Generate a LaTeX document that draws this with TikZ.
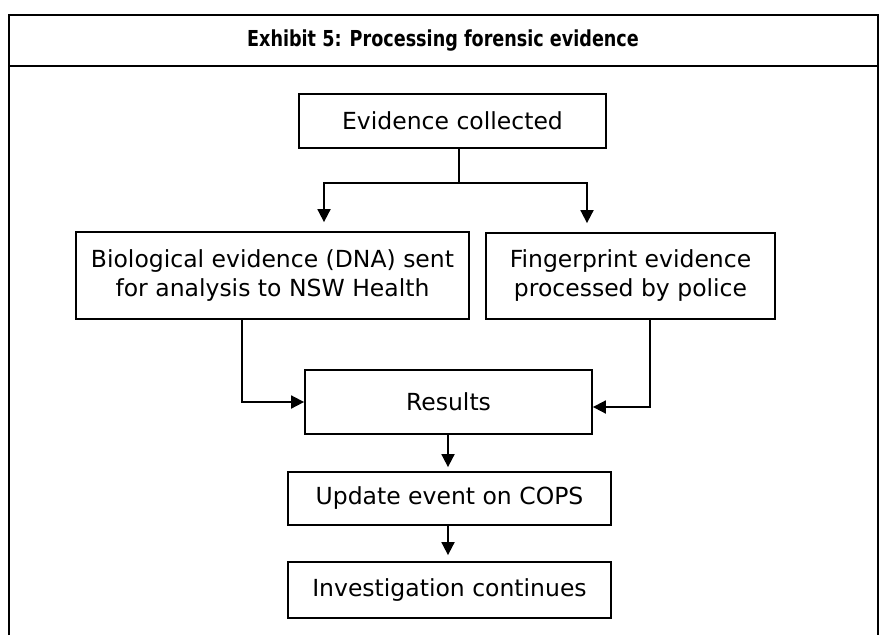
\documentclass[tikz,border=0pt]{standalone}
\usepackage{fontspec}
\setmainfont{DejaVu Sans}
\newfontfamily\headfont[FakeStretch=0.8]{DejaVu Sans Bold}
\usetikzlibrary{arrows.meta}

\begin{document}
\begin{tikzpicture}[x=1pt, y=-1pt,
          box/.style = {draw, line width=1.8pt, inner sep=0pt, align=center,
                        font=\fontsize{23.5}{29}\selectfont},
          link/.style = {draw, line width=1.8pt},
          flow/.style = {link, -{Triangle[length=13pt,width=13pt]}}
          ]
  \useasboundingbox (0,0) rectangle (885,635);
  % outer frame and heading
  \draw[line width=2.3pt] (9,635) -- (9,15) -- (878,15) -- (878,635);
  \draw[line width=2.3pt] (9,66) -- (878,66);
  \node[font=\fontsize{22}{26}\headfont] (title) at (443,41)
    {Exhibit 5: Processing forensic evidence};
  % boxes
  \node[box, minimum width=307pt, minimum height=54pt] (collected) at (452.5,121) {Evidence collected};
  \node[box, minimum width=393pt, minimum height=87pt] (bio) at (272.5,275.5)
    {Biological evidence (DNA) sent \\ for analysis to NSW Health};
  \node[box, minimum width=289pt, minimum height=86pt] (finger) at (630.5,276)
    {Fingerprint evidence \\ processed by police};
  \node[box, minimum width=287pt, minimum height=64pt] (results) at (448.5,402) {Results};
  \node[box, minimum width=323pt, minimum height=53pt] (update) at (449.5,498.5) {Update event on COPS};
  \node[box, minimum width=323pt, minimum height=56pt] (invest) at (449.5,590) {Investigation continues};
  % connectors
  \coordinate (split) at (459,183);
  \draw[link] (collected.south -| split) -- (split);
  \draw[flow, shorten >=9pt] (split) -| (324,0 |- bio.north);
  \draw[flow, shorten >=9pt] (split) -| (587,0 |- finger.north);
  \draw[flow] (242,0 |- bio.south) |- (results.west);
  \draw[flow] (650,0 |- finger.south) |- ([yshift=-5pt]results.east);
  \draw[flow, shorten >=4pt] (448,0 |- results.south) -- (448,0 |- update.north);
  \draw[flow, shorten >=6pt] (448,0 |- update.south) -- (448,0 |- invest.north);
\end{tikzpicture}
\end{document}
